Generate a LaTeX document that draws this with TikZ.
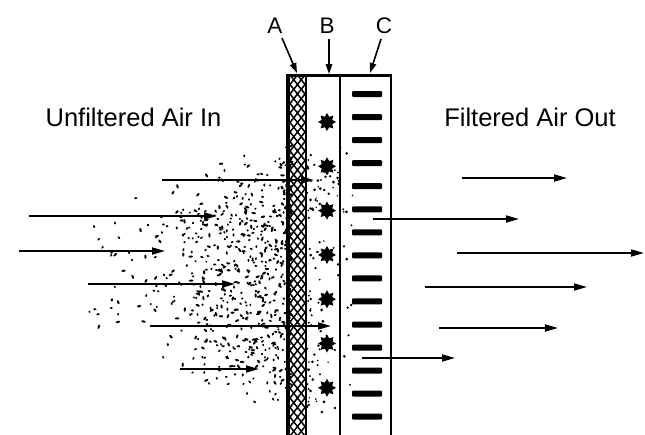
\documentclass[tikz,border=0pt]{standalone}
\usepackage{fontspec}
\setmainfont{Liberation Sans}
\usetikzlibrary{arrows.meta,shapes.geometric}

\begin{document}
\begin{tikzpicture}[x=1pt,y=-1pt,
		flecha/.style={line width=1.7pt, -{Triangle[length=13pt,width=7pt]}},
		flechita/.style={line width=1.6pt, -{Triangle[length=10pt,width=6.5pt]}},
		titulo/.style={font=\fontsize{25.5}{30}\selectfont, anchor=base, inner sep=0pt},
		letra/.style={font=\fontsize{22.5}{26}\selectfont, anchor=base, inner sep=0pt},
		estrella/.style={star, star points=8, star point ratio=1.6, fill, draw=none, inner sep=0pt, minimum size=18pt},
		barra/.style={fill, draw=none, rounded corners=1pt, inner sep=0pt, minimum width=30pt, minimum height=6pt}
	]
	\useasboundingbox (0,0) rectangle (645,434);

	%Particulas de polvo: nube abierta
	\pgfmathsetseed{17}
	\foreach \n in {1,...,250} {
		\pgfmathsetmacro{\pX}{60+230*sqrt(rnd)}
		\pgfmathsetmacro{\hh}{45+0.45*(\pX-60)}
		\pgfmathsetmacro{\vv}{1.3*rnd+0.7*rnd-1}
		\pgfmathsetmacro{\pY}{272+\hh*\vv}
		\pgfmathsetmacro{\angulo}{360*rnd}
		\pgfmathsetmacro{\radio}{1.1+1.2*rnd}
		\fill[shift={(\pX,\pY)}, rotate=\angulo] (0,0) ellipse ({\radio} and 1.1);
	}
	%Particulas de polvo: junto al filtro
	\foreach \n in {1,...,450} {
		\pgfmathsetmacro{\uu}{rnd}
		\pgfmathsetmacro{\pX}{291-110*\uu*\uu}
		\pgfmathsetmacro{\hh}{100+0.45*(\pX-181)}
		\pgfmathsetmacro{\vv}{1.5*rnd+0.5*rnd-1}
		\pgfmathsetmacro{\pY}{278+\hh*\vv}
		\pgfmathsetmacro{\angulo}{360*rnd}
		\pgfmathsetmacro{\radio}{1.1+1.2*rnd}
		\fill[shift={(\pX,\pY)}, rotate=\angulo] (0,0) ellipse ({\radio} and 1.1);
	}
	%Particulas dentro del filtro
	\foreach \n in {1,...,110} {
		\pgfmathsetmacro{\uu}{rnd}
		\pgfmathsetmacro{\pX}{307+46*\uu*\uu}
		\pgfmathsetmacro{\pY}{145+270*rnd}
		\pgfmathsetmacro{\radio}{0.8+0.8*rnd}
		\fill (\pX,\pY) circle (\radio);
	}

	%Capa A: malla
	\begin{scope}
		\clip (289,75) rectangle (306,436);
		\foreach \k in {-4,...,40}
			\draw[line width=1.5pt] (290,75+9.5*\k) -- (305,94+9.5*\k)
				(290,94+9.5*\k) -- (305,75+9.5*\k);
	\end{scope}

	%Marco del filtro
	\draw[line width=4.5pt] (288,436) -- (288,75);
	\draw[line width=3pt] (286,75) -- (392,75);
	\draw[line width=2.5pt] (391,74) -- (391,436);
	\draw[line width=2pt] (306,75) -- (306,436);
	\draw[line width=1.8pt] (340,75) -- (340,436);

	%Capa B: estrellas
	\foreach \i in {0,...,6}
		\node[estrella] (s\i) at (327,122+44.3*\i) {};

	%Capa C: barras
	\foreach \i in {0,...,14}
		\node[barra] (b\i) at (367,94+23.05*\i) {};

	%Textos
	\node[titulo] (entrada) at (133.5,126) {Unfiltered Air In};
	\node[titulo] (salida) at (530,126) {Filtered Air Out};

	%Letras de las capas
	\node[letra] (A) at (275,33) {A};
	\node[letra] (B) at (327,33) {B};
	\node[letra] (C) at (384,33) {C};
	\coordinate (qA) at (282,38);
	\coordinate (qB) at (329,39);
	\coordinate (qC) at (381,39);
	\coordinate (pA) at (297,73);
	\coordinate (pB) at (329,74);
	\coordinate (pC) at (370,73);
	\draw[flechita] (qA) -- (pA);
	\draw[flechita] (qB) -- (pB);
	\draw[flechita] (qC) -- (pC);

	%Aire que entra
	\foreach \a/\b/\y [count=\i] in {162/314/180, 29/217/216, 19/165/251, 88/235/284, 150/331/326, 180/259/369} {
		\coordinate (e\i) at (\a,\y);
		\coordinate (f\i) at (\b,\y);
		\draw[flecha] (e\i) -- (f\i);
	}
	%Aire que sale
	\foreach \a/\b/\y [count=\i] in {462/567/178, 373/519/219, 457/644/253, 425/587/287, 439/558/328, 362/455/358} {
		\coordinate (g\i) at (\a,\y);
		\coordinate (h\i) at (\b,\y);
		\draw[flecha] (g\i) -- (h\i);
	}
\end{tikzpicture}
\end{document}
